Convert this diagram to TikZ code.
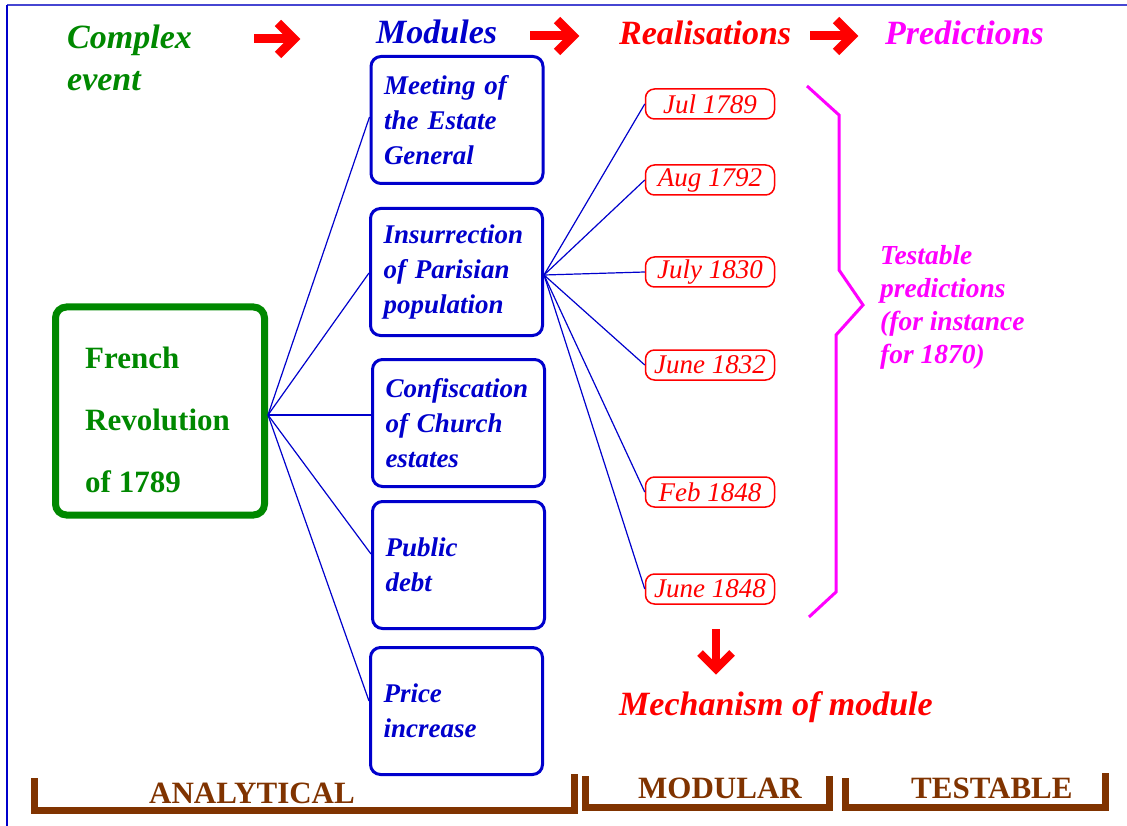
\documentclass[tikz,border=0pt]{standalone}
\usepackage{fontspec}
\setmainfont{Liberation Serif}
\usetikzlibrary{calc}
\definecolor{mblue}{RGB}{0,0,204}
\definecolor{mgreen}{RGB}{0,136,0}
\definecolor{mred}{RGB}{255,0,0}
\definecolor{mmag}{RGB}{255,0,255}
\definecolor{mbrown}{RGB}{128,51,0}
\definecolor{mframe}{RGB}{70,70,210}
\begin{document}
\begin{tikzpicture}[x=1pt,y=-1pt,
  hdr/.style={font=\fontsize{34}{42}\selectfont\bfseries\itshape, inner sep=0, align=left},
  modbox/.style={draw=mblue, line width=3, rounded corners=10, minimum width=172, minimum height=127,
     text width=146, align=left, inner xsep=13, inner ysep=0, text=mblue,
     font=\fontsize{27}{35}\selectfont\bfseries\itshape},
  datebox/.style={draw=mred, line width=1.5, rounded corners=9, minimum width=129, minimum height=30,
     inner sep=0, text=mred, font=\fontsize{27}{30}\selectfont\itshape},
  greenbox/.style={draw=mgreen, line width=7, rounded corners=11, minimum width=209, minimum height=208},
  link/.style={draw=mblue, line width=1.2},
  bigarrow/.style={draw=mred, line width=9, line join=miter},
  bracket/.style={draw=mbrown, line width=7, line join=miter},
  lab/.style={text=mbrown, font=\fontsize{31}{36}\selectfont\bfseries, inner sep=0, anchor=base west},
]
\useasboundingbox (0,0) rectangle (1127,826);
% frame
\draw[mframe, line width=1.7] (7,5) -- (1127,5);
\draw[mblue, line width=1.1] (7,5) -- (7,826);

% headers
\node[hdr, text=mgreen, anchor=north west] (complex) at (67,25) {Complex\\event};
\node[hdr, text=mblue, anchor=base west] (modules) at (376,44) {Modules};
\node[hdr, text=mred, anchor=base west] (real) at (619,45) {Realisations};
\node[hdr, text=mmag, anchor=base west] (pred) at (885,45) {Predictions};

% header arrows
\coordinate (a1s) at (254,39); \coordinate (a1e) at (294,39);
\coordinate (a2s) at (530,36); \coordinate (a2e) at (573,36);
\coordinate (a3s) at (810,36); \coordinate (a3e) at (852,36);
\foreach \s/\e in {a1s/a1e,a2s/a2e,a3s/a3e}{
  \draw[bigarrow] (\s) -- (\e);
  \draw[bigarrow] ($(\e)+(-16,-16)$) -- (\e) -- ($(\e)+(-16,16)$);
}

% green box
\node[greenbox] (fr) at (160,411) {};
\node[anchor=north west, inner sep=0, align=left, text=mgreen,
      font=\fontsize{31}{62}\selectfont\bfseries] (frt) at (85,347) {French\\Revolution\\of 1789};

% modules
\node[modbox] (meet)  at (457,120)   {Meeting of\\the Estate\\General};
\node[modbox] (ins)   at (456.5,272) {Insurrection\\of Parisian\\population};
\node[modbox] (conf)  at (458.5,423) {Confiscation\\of Church\\estates};
\node[modbox] (pub)   at (458.5,565) {Public\\debt};
\node[modbox] (price) at (456.5,711) {Price\\increase};

% dates
\node[datebox] (d1) at (710,104) {Jul 1789};
\node[datebox] (d2) at (710,180) {Aug 1792};
\node[datebox] (d3) at (710,272) {July 1830};
\node[datebox] (d4) at (710,365) {June 1832};
\node[datebox] (d5) at (710,492) {Feb 1848};
\node[datebox] (d6) at (710,589) {June 1848};

% fan from French Revolution
\coordinate (fo) at ($(fr.east)+(0,4)$);
\draw[link] (fo) -- ($(meet.west)+(0,-3)$);
\draw[link] (fo) -- ($(ins.west)+(0,1)$);
\draw[link] (fo) -- (fo -| conf.west);
\draw[link] (fo) -- ($(pub.west)+(0,-11)$);
\draw[link] (fo) -- ($(price.west)+(0,-10)$);

% fan from Insurrection
\coordinate (io) at ($(ins.east)+(0,3)$);
\foreach \d in {d1,d2,d3,d4,d5,d6}{\draw[link] (io) -- (\d.west);}

% brace
\draw[mmag, line width=3] (807,86) -- (839,115) -- (839,270) -- (863,305) -- (836,335) -- (836,592) -- (809,617);
\node[anchor=north west, inner sep=0, align=left, text=mmag,
      font=\fontsize{27.5}{33}\selectfont\bfseries\itshape] (testp) at (880,245)
      {Testable\\predictions\\(for instance\\for 1870)};

% mechanism arrow
\coordinate (ms) at (716,629); \coordinate (me) at (716,669);
\draw[mred, line width=8] (ms) -- (me);
\draw[mred, line width=8, line join=miter] ($(me)+(-16,-16)$) -- (me) -- ($(me)+(16,-16)$);
\node[hdr, text=mred, anchor=base west] (mech) at (619,715) {Mechanism of module};

% brackets
\draw[bracket] (34.5,778) -- (34.5,810.5) -- (574.5,810.5) -- (574.5,774);
\draw[bracket] (585.5,776) -- (585.5,807) -- (829,807) -- (829,776);
\draw[bracket] (845,778) -- (845,807) -- (1105,807) -- (1105,773);
\node[lab] (anal) at (149,803) {ANALYTICAL};
\node[lab] (modu) at (638,798) {MODULAR};
\node[lab] (test) at (911,798) {TESTABLE};
\end{tikzpicture}
\end{document}
